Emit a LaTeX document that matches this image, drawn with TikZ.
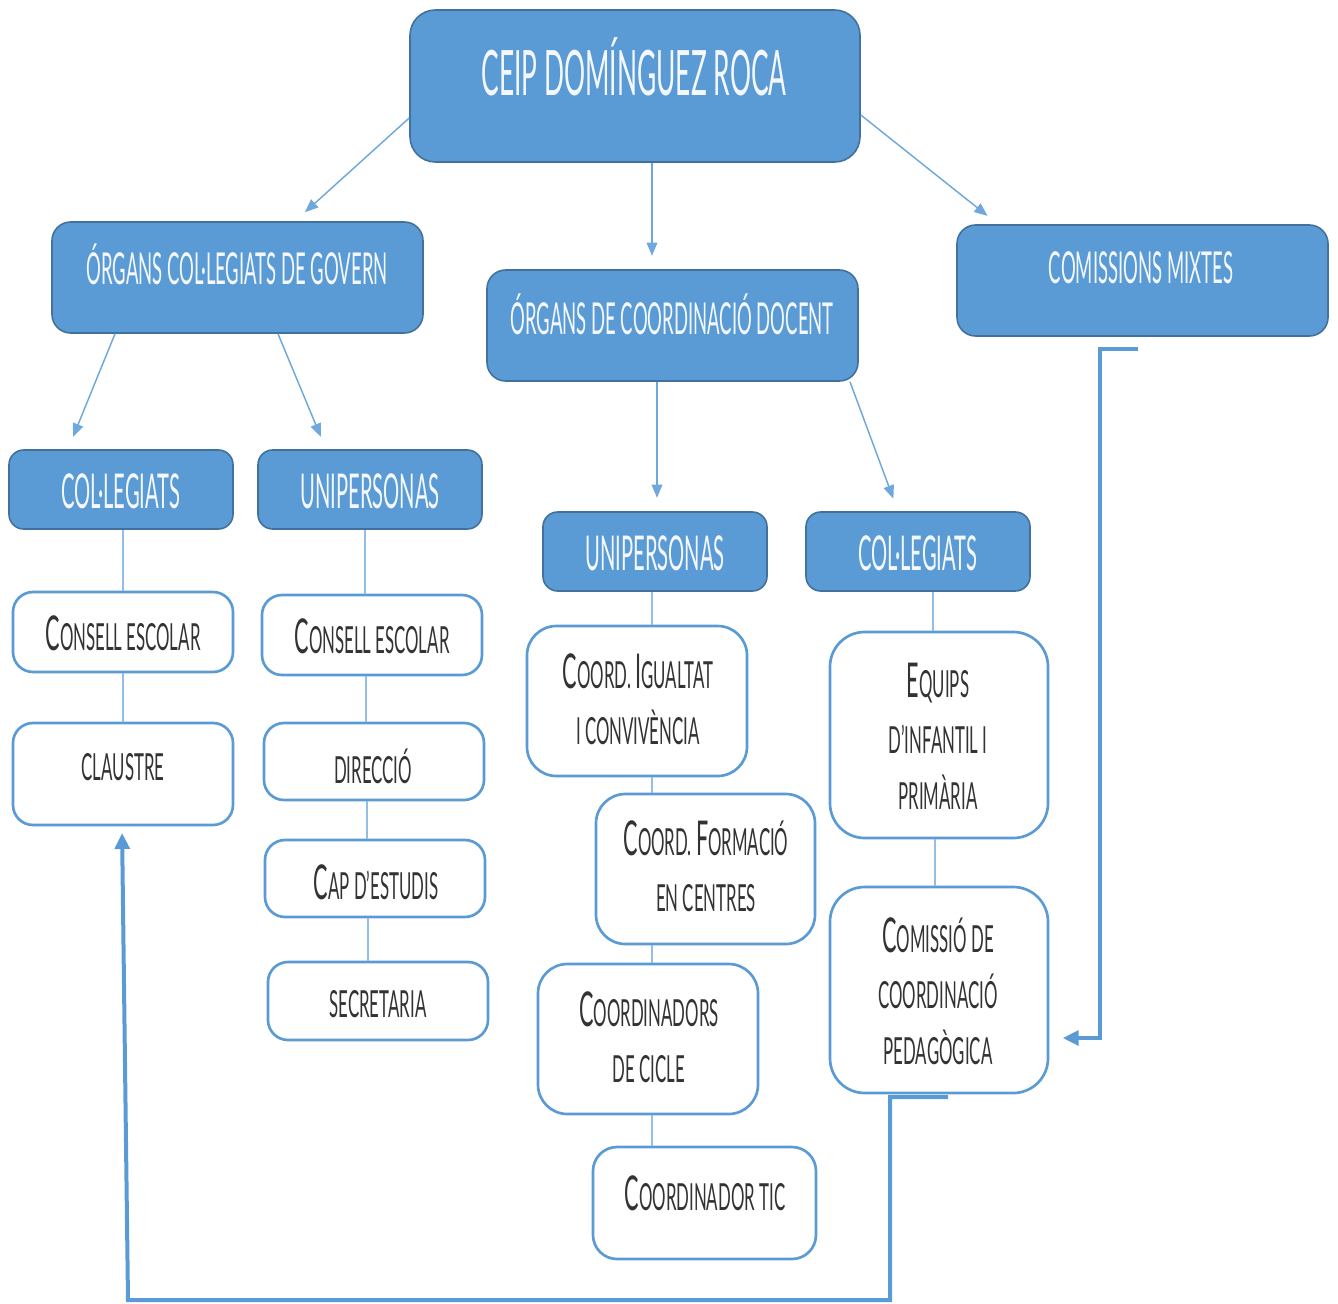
\documentclass[tikz,border=0pt]{standalone}
\usepackage{fontspec}
\newfontfamily\amfont[FakeStretch=0.42]{Lato}
\newfontfamily\amfontk[FakeStretch=0.45]{Lato}
\usetikzlibrary{fit,arrows.meta}
\definecolor{bfill}{HTML}{5B9BD5}
\definecolor{bedge}{HTML}{41719C}
\definecolor{lline}{HTML}{6FA8DC}
\definecolor{txtw}{HTML}{F4F8FC}
\definecolor{txtk}{HTML}{333333}
\newcommand\BL[1]{{\fontsize{36}{42}\selectfont #1}}
\tikzset{
 bluebox/.style={draw=bedge, fill=bfill, line width=1.2pt, rounded corners=14pt, inner sep=0pt},
 whitebox/.style={draw=bfill, fill=white, line width=2pt, rounded corners=15pt, inner sep=0pt},
 wtxt/.style={text=txtw, font=\amfont\fontsize{33}{40}\selectfont, inner sep=0pt},
 ktxt/.style={text=txtk, font=\amfontk\fontsize{28}{42}\selectfont, inner sep=0pt, align=center},
 conn/.style={draw=lline, line width=1.1pt, -{Triangle[length=10pt,width=8pt]}, shorten >=10pt},
 plainline/.style={draw=lline!75, line width=1pt},
 heavy/.style={draw=bfill, line width=3pt, -{Triangle[length=12pt,width=11pt]}}
}
\begin{document}
\begin{tikzpicture}[x=0.75pt,y=-0.75pt]
\useasboundingbox (0,0) rectangle (1338,1303);
% blue boxes
\node[bluebox, rounded corners=19pt, fit={(410,10) (860,162)}] (root) {};
\node[bluebox, fit={(52,222) (423,333)}] (og) {};
\node[bluebox, fit={(487,270) (858,381)}] (ocd) {};
\node[bluebox, fit={(957,225) (1328,336)}] (cm) {};
\node[bluebox, rounded corners=11pt, fit={(9,450) (233,529)}] (colL) {};
\node[bluebox, rounded corners=11pt, fit={(258,450) (482,529)}] (uniL) {};
\node[bluebox, rounded corners=11pt, fit={(543,512) (767,591)}] (uniM) {};
\node[bluebox, rounded corners=11pt, fit={(806,512) (1030,591)}] (colR) {};
% blue texts
\node[wtxt, font=\amfont\fontsize{47}{50}\selectfont] (roott) at (634,67) {CEIP DOMÍNGUEZ ROCA};
\node[wtxt] (ogt) at (237,264) {ÓRGANS COL·LEGIATS DE GOVERN};
\node[wtxt] (ocdt) at (672,314) {ÓRGANS DE COORDINACIÓ DOCENT};
\node[wtxt] (cmt) at (1141,268) {COMISSIONS MIXTES};
\node[wtxt, font=\amfont\fontsize{36}{40}\selectfont] (colLt) at (121,491) {COL·LEGIATS};
\node[wtxt, font=\amfont\fontsize{36}{40}\selectfont] (uniLt) at (370,491) {UNIPERSONAS};
\node[wtxt, font=\amfont\fontsize{36}{40}\selectfont] (uniMt) at (655,553) {UNIPERSONAS};
\node[wtxt, font=\amfont\fontsize{36}{40}\selectfont] (colRt) at (918,553) {COL·LEGIATS};
% white boxes
\node[whitebox, fit={(13,592) (233,672)}] (ce1) {};
\node[whitebox, fit={(13,723) (233,825)}] (cl) {};
\node[whitebox, fit={(262,595) (482,675)}] (ce2) {};
\node[whitebox, fit={(264,723) (484,800)}] (dir) {};
\node[whitebox, fit={(265,840) (485,917)}] (cap) {};
\node[whitebox, fit={(268,962) (488,1040)}] (sec) {};
\node[whitebox, rounded corners=22pt, fit={(527,626) (747,776)}] (igu) {};
\node[whitebox, rounded corners=22pt, fit={(596,794) (815,944)}] (for) {};
\node[whitebox, rounded corners=22pt, fit={(538,964) (758,1114)}] (cic) {};
\node[whitebox, rounded corners=18pt, fit={(593,1147) (816,1259)}] (tic) {};
\node[whitebox, rounded corners=26pt, fit={(830,632) (1048,838)}] (equ) {};
\node[whitebox, rounded corners=26pt, fit={(830,887) (1048,1093)}] (ccp) {};
% white texts
\node[ktxt] (ce1t) at (123,633) {\BL{C}ONSELL ESCOLAR};
\node[ktxt] (clt) at (123,767) {CLAUSTRE};
\node[ktxt] (ce2t) at (372,636) {\BL{C}ONSELL ESCOLAR};
\node[ktxt] (dirt) at (373,766) {DIRECCIÓ};
\node[ktxt] (capt) at (376,882) {\BL{C}AP D’ESTUDIS};
\node[ktxt] (sect) at (378,1004) {SECRETARIA};
\node[ktxt] (igut) at (638,699) {\BL{C}OORD. \BL{I}GUALTAT\\I CONVIVÈNCIA};
\node[ktxt] (fort) at (706,866) {\BL{C}OORD. \BL{F}ORMACIÓ\\EN CENTRES};
\node[ktxt] (cict) at (649,1037) {\BL{C}OORDINADORS\\DE CICLE};
\node[ktxt] (tict) at (705,1193) {\BL{C}OORDINADOR TIC};
\node[ktxt] (equt) at (938,736) {\BL{E}QUIPS\\D’INFANTIL I\\PRIMÀRIA};
\node[ktxt] (ccpt) at (938,991) {\BL{C}OMISSIÓ DE\\COORDINACIÓ\\PEDAGÒGICA};
% arrows
\draw[conn] (root.west |- 0,118) -- (og.north -| 295,0);
\draw[conn] (root.south -| 652,0) -- (ocd.north -| 652,0);
\draw[conn] (root.east |- 0,115) -- (cm.north -| 998,0);
\draw[conn] (og.south -| 115,0) -- (colL.north -| 68,0);
\draw[conn] (og.south -| 278,0) -- (uniL.north -| 326,0);
\draw[conn] (ocd.south -| 657,0) -- (uniM.north -| 657,0);
\draw[conn] (ocd.south -| 850,0) -- (colR.north -| 898,0);
% plain lines
\draw[plainline] (colL.south -| 123,0) -- (ce1.north -| 123,0);
\draw[plainline] (ce1.south -| 123,0) -- (cl.north -| 123,0);
\draw[plainline] (uniL.south -| 365,0) -- (ce2.north -| 365,0);
\draw[plainline] (ce2.south -| 366,0) -- (dir.north -| 366,0);
\draw[plainline] (dir.south -| 367,0) -- (cap.north -| 367,0);
\draw[plainline] (cap.south -| 368,0) -- (sec.north -| 368,0);
\draw[plainline] (uniM.south -| 652,0) -- (igu.north -| 652,0);
\draw[plainline] (igu.south -| 652,0) -- (for.north -| 652,0);
\draw[plainline] (for.south -| 652,0) -- (cic.north -| 652,0);
\draw[plainline] (cic.south -| 652,0) -- (tic.north -| 652,0);
\draw[plainline] (colR.south -| 933,0) -- (equ.north -| 933,0);
\draw[plainline] (equ.south -| 935,0) -- (ccp.north -| 935,0);
% heavy connectors
\coordinate (cmS) at (1138,349);
\coordinate (ccpS) at (948,1097);
\draw[heavy, shorten >=10pt] (cmS) -- (1100,349) -- (1100,1038) -- (ccp.east |- 0,1038);
\draw[heavy, shorten >=5pt] (ccpS) -- (890,1097) -- (890,1300) -- (128,1300) -- (cl.south -| 122,0);
\end{tikzpicture}
\end{document}
